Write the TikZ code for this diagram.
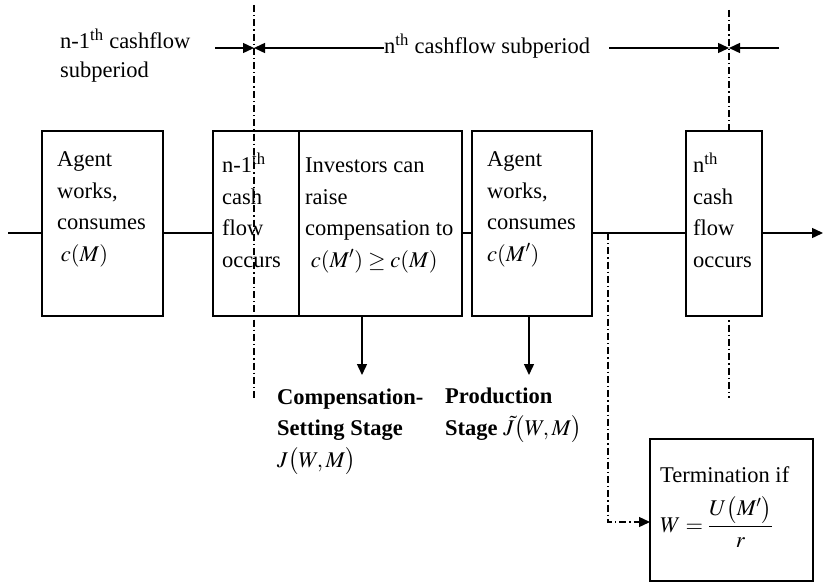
\documentclass[tikz,border=0pt]{standalone}
\usepackage{amsmath}
\usepackage{mathptmx}
\usepackage{fontspec}
\setmainfont{Liberation Serif}
\usepackage{tikz}
\usetikzlibrary{arrows.meta, positioning}

\begin{document}
\begin{tikzpicture}[x=1pt, y=-1pt,
		stagebox/.style = {draw, line width=1.8pt, fill=white, inner sep=0pt},
		boxtext/.style = {anchor=base west, align=left, inner sep=0pt, font=\fontsize{22.5}{31.5}\selectfont},
		timeline/.style = {line width=1.4pt},
		dashdot/.style = {line width=1.3pt, dash pattern=on 7pt off 3pt on 1.3pt off 3pt},
		arrowtip/.style = {-{Triangle[length=11pt, width=10pt]}}]
			\useasboundingbox (0,0) rectangle (824,583);
			\coordinate (cutAtop) at (254,5);
			\coordinate (cutAbot) at (254,398);
			\coordinate (cutBtop) at (729,10);
			\coordinate (cutBbot) at (729,398);
			\draw [dashdot] (cutBtop) -- (cutBbot);
			\node [stagebox, minimum width=121pt, minimum height=185pt] (agentA) at (102.5,223.5) {};
			\node [stagebox, minimum width=86pt, minimum height=185pt] (cashA) at (256,223.5) {};
			\node [stagebox, minimum width=163pt, minimum height=185pt] (invest) at (380.5,223.5) {};
			\node [stagebox, minimum width=120pt, minimum height=185pt] (agentB) at (532,223.5) {};
			\node [stagebox, minimum width=76pt, minimum height=185pt] (cashB) at (724,223.5) {};
			\node [stagebox, minimum width=163pt, minimum height=142pt] (term) at (731.5,510) {};
			\draw [dashdot] (cutAtop) -- (cutAbot);
			\node [boxtext] (agentAText) at (57,261) {Agent\\works,\\consumes\\\,$c(M)$};
			\node [boxtext] (cashAText) at (222,267) {n-1\textsuperscript{th}\\cash\\flow\\occurs};
			\node [boxtext] (investText) at (305,267) {Investors can\\raise\\compensation to\\\ $c(M')\geq c(M)$};
			\node [boxtext] (agentBText) at (487,261) {Agent\\works,\\consumes\\$c(M')$};
			\node [boxtext] (cashBText) at (693,267) {n\textsuperscript{th}\\cash\\flow\\occurs};
			\node [boxtext] (termText) at (660,482) {Termination if};
			\node [boxtext] (termFormula) at (660,532) {$W=\dfrac{U\bigl(M'\bigr)}{r}$};
			\node [boxtext] (compLabel) at (277,467) {\textbf{Compensation-}\\\textbf{Setting Stage}\\$J\bigl(W,M\bigr)$};
			\node [boxtext] (prodLabel) at (445,435) {\textbf{Production}\\\textbf{Stage} $\tilde{J}\bigl(W,M\bigr)$};
			\node [boxtext, font=\fontsize{22.5}{29}\selectfont] (subA) at (60,78) {n-1\textsuperscript{th} cashflow\\subperiod};
			\node [boxtext] (subB) at (384,54) {n\textsuperscript{th} cashflow subperiod};
			\coordinate (lineL) at (8,233);
			\coordinate (lineR) at (823,233);
			\draw [timeline] (lineL) -- (lineL -| agentA.west);
			\draw [timeline] (lineL -| agentA.east) -- (lineL -| cashA.west);
			\draw [timeline] (lineL -| invest.east) -- (lineL -| agentB.west);
			\draw [timeline] (lineL -| agentB.east) -- (lineL -| cashB.west);
			\draw [timeline, arrowtip] (lineL -| cashB.east) -- (lineR);
			\coordinate (compArrow) at (362,375);
			\coordinate (prodArrow) at (529,375);
			\draw [timeline, arrowtip] (invest.south -| compArrow) -- (compArrow);
			\draw [timeline, arrowtip] (agentB.south -| prodArrow) -- (prodArrow);
			\coordinate (split) at (608,233);
			\coordinate (termIn) at (650,522);
			\draw [dashdot, arrowtip] (split) |- (termIn);
			\coordinate (spanL) at (215,48);
			\coordinate (spanA) at (254,48);
			\coordinate (spanC) at (609,48);
			\coordinate (spanB) at (729,48);
			\coordinate (spanR) at (779,48);
			\draw [timeline, arrowtip] (spanL) -- (spanA);
			\draw [timeline, arrowtip] (subB.west |- spanA) -- (spanA);
			\draw [timeline, arrowtip] (spanC) -- (spanB);
			\draw [timeline, arrowtip] (spanR) -- (spanB);
		\end{tikzpicture}
\end{document}
